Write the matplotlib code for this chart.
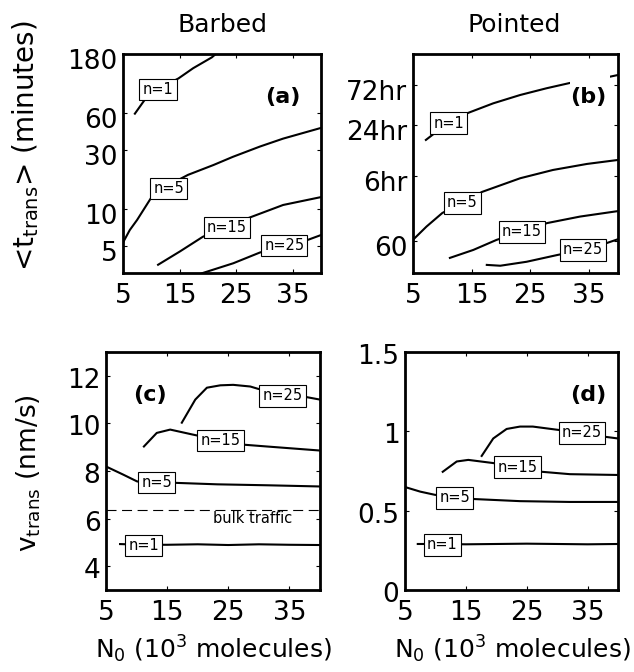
import matplotlib
matplotlib.use('Agg')
import matplotlib.pyplot as plt
from matplotlib.ticker import FixedLocator, NullLocator, FixedFormatter
from matplotlib.transforms import ScaledTranslation
from matplotlib.patches import Rectangle

plt.rcParams['font.family'] = ['DejaVu Sans']
plt.rcParams['mathtext.default'] = 'regular'

# ---------------- data ----------------
# x axis: N0 (10^3 molecules)
xticks = [5, 15, 25, 35]
xtick_labels = ['5', '15', '25', '35']

# (a) Barbed: <t_trans> in minutes
a_n1_x = [7.1, 8.8, 11.5, 14.8, 17.4, 20.7, 22]
a_n1_y = [59, 76, 95, 114, 138, 169, 190]
a_n5_x = [5, 6.2, 7.5, 10.1, 13, 16.5, 21, 24.4, 29.2, 33.3, 40]
a_n5_y = [5.3, 6.7, 8.1, 12.5, 15.5, 18.8, 22.6, 26.3, 31.9, 37.0, 45.2]
a_n15_x = [11.2, 15.1, 19.1, 23.4, 27.8, 33.3, 40]
a_n15_y = [3.5, 4.5, 5.9, 7.2, 8.6, 10.7, 12.4]
a_n25_x = [18, 19.1, 24.5, 29.2, 33.5, 37.8, 40]
a_n25_y = [2.85, 3.0, 3.6, 4.4, 5.0, 5.6, 6.1]
a_yticks = [5, 10, 30, 60, 180]
a_ytick_labels = ['5', '10', '30', '60', '180']
a_lab_x = [11.2, 13.1, 23.4, 33.5]
a_lab_y = [93, 14.5, 7.0, 5.0]

# (b) Pointed: <t_trans> in minutes
b_n1_x = [7.2, 8.8, 14.4, 18.7, 23.3, 27.8, 31.8, 38.6, 40]
b_n1_y = [953, 1161, 1995, 2594, 3258, 3917, 4530, 5370, 5630]
b_n5_x = [5, 7.3, 10, 16.8, 23.3, 28.9, 34.7, 40]
b_n5_y = [62, 89, 129, 230, 334, 419, 494, 551]
b_n15_x = [11.3, 15.3, 19.3, 23.6, 27.9, 33.5, 40]
b_n15_y = [37.8, 47, 62, 77, 98, 117, 136]
b_n25_x = [17.6, 19.9, 24.4, 29.7, 34, 38, 40]
b_n25_y = [31.2, 30.5, 34, 41, 47, 56.5, 63]
b_yticks = [60, 360, 1440, 4320]
b_ytick_labels = ['60', '6hr', '24hr', '72hr']
b_lab_x = [11.1, 13.4, 23.6, 34.0]
b_lab_y = [1514, 170, 77, 47]

# (c) Barbed: v_trans (nm/s)
c_n1_x = [7.3, 11, 15, 20, 25, 30, 35, 40]
c_n1_y = [4.93, 4.90, 4.90, 4.92, 4.89, 4.92, 4.90, 4.89]
c_n5_x = [5, 7.8, 10.1, 13, 16.6, 23.2, 31.4, 40]
c_n5_y = [8.19, 7.85, 7.56, 7.53, 7.50, 7.44, 7.40, 7.35]
c_n15_x = [11.2, 13.3, 15.5, 19.2, 23.5, 27.8, 31.3, 40]
c_n15_y = [9.03, 9.60, 9.74, 9.53, 9.30, 9.10, 9.03, 8.86]
c_n25_x = [17.4, 19.6, 21.5, 23.7, 25.8, 28.6, 29.9, 33.9, 37.9, 40]
c_n25_y = [10.03, 11.0, 11.5, 11.6, 11.62, 11.55, 11.45, 11.3, 11.1, 11.0]
c_bulk = 6.35
c_yticks = [4, 6, 8, 10, 12]
c_lab_x = [11.2, 13.3, 23.7, 33.9]
c_lab_y = [4.88, 7.52, 9.28, 11.16]

# (d) Pointed: v_trans (nm/s)
d_n1_x = [7.1, 11, 15, 20, 25, 30, 35, 40]
d_n1_y = [0.29, 0.29, 0.288, 0.29, 0.292, 0.29, 0.288, 0.29]
d_n5_x = [5, 7.5, 9.9, 13, 16.5, 23.9, 32, 40]
d_n5_y = [0.649, 0.62, 0.60, 0.585, 0.573, 0.56, 0.555, 0.555]
d_n15_x = [11.2, 13.5, 15.4, 19.5, 23.5, 27.5, 32.1, 40]
d_n15_y = [0.745, 0.81, 0.82, 0.80, 0.775, 0.745, 0.73, 0.725]
d_n25_x = [17.6, 19.5, 21.7, 23.9, 26.0, 30.0, 34.1, 38.0, 40]
d_n25_y = [0.845, 0.955, 1.015, 1.03, 1.03, 1.01, 0.99, 0.965, 0.955]
d_yticks = [0, 0.5, 1, 1.5]
d_ytick_labels = ['0', '0.5', '1', '1.5']
d_lab_x = [11.1, 13.2, 23.5, 34.1]
d_lab_y = [0.284, 0.58, 0.775, 0.99]

n_labels = ['n=1', 'n=5', 'n=15', 'n=25']

# ---------------- figure ----------------
W, H = 634, 672
fig = plt.figure(figsize=(W / 100, H / 100), dpi=100)


def axbox(x0, x1, y0, y1):
    return [x0 / W, 1 - y1 / H, (x1 - x0) / W, (y1 - y0) / H]


axa = fig.add_axes(axbox(123, 321, 54, 273))
axb = fig.add_axes(axbox(413, 618, 54, 273))
axc = fig.add_axes(axbox(106, 320, 352, 590))
axd = fig.add_axes(axbox(405, 618, 352, 590))

LW = 1.5
TICK_FS = 19
LABEL_FS = 18


def style(ax):
    ax.set_xlim(5, 40)
    ax.xaxis.set_major_locator(FixedLocator(xticks))
    ax.xaxis.set_major_formatter(FixedFormatter(xtick_labels))
    ax.xaxis.set_minor_locator(NullLocator())
    ax.yaxis.set_minor_locator(NullLocator())
    ax.tick_params(direction='in', length=3, width=0.8, top=True, right=True,
                   labelsize=TICK_FS)
    ax.tick_params(axis='x', pad=7)
    ax.tick_params(axis='y', pad=4)
    for s in ax.spines.values():
        s.set_linewidth(2)


def shift_ylabels(ax, dy_px):
    off = ScaledTranslation(0, -dy_px / 100, fig.dpi_scale_trans)
    for lab in ax.get_yticklabels():
        lab.set_transform(lab.get_transform() + off)


def labels(ax, xs, ys):
    for x, y, t in zip(xs, ys, n_labels):
        ax.text(x, y, t, ha='center', va='center', fontsize=10.5, zorder=5,
                bbox=dict(boxstyle='square,pad=0.22', fc='white', ec='black', lw=0.8))


# (a)
for xs, ys in [(a_n1_x, a_n1_y), (a_n5_x, a_n5_y), (a_n15_x, a_n15_y), (a_n25_x, a_n25_y)]:
    axa.plot(xs, ys, color='black', lw=LW)
axa.set_yscale('log')
axa.set_ylim(3, 180)
style(axa)
axa.yaxis.set_major_locator(FixedLocator(a_yticks))
axa.yaxis.set_major_formatter(FixedFormatter(a_ytick_labels))
shift_ylabels(axa, 5)
labels(axa, a_lab_x, a_lab_y)
axa.text(0.808, 0.804, '(a)', transform=axa.transAxes, ha='center', va='center',
         fontsize=16, fontweight='bold', zorder=6)

# (b)
for xs, ys in [(b_n1_x, b_n1_y), (b_n5_x, b_n5_y), (b_n15_x, b_n15_y), (b_n25_x, b_n25_y)]:
    axb.plot(xs, ys, color='black', lw=LW)
axb.set_yscale('log')
axb.set_ylim(25, 10000)
style(axb)
axb.yaxis.set_major_locator(FixedLocator(b_yticks))
axb.yaxis.set_major_formatter(FixedFormatter(b_ytick_labels))
shift_ylabels(axb, 5)
labels(axb, b_lab_x, b_lab_y)
# white background behind the "(b)" panel tag
axb.add_patch(Rectangle((0.766, 0.735), 0.195, 0.185, transform=axb.transAxes,
                        fc='white', ec='none', zorder=4))
axb.text(0.854, 0.804, '(b)', transform=axb.transAxes, ha='center', va='center',
         fontsize=16, fontweight='bold', zorder=6)

# (c)
for xs, ys in [(c_n1_x, c_n1_y), (c_n5_x, c_n5_y), (c_n15_x, c_n15_y), (c_n25_x, c_n25_y)]:
    axc.plot(xs, ys, color='black', lw=LW)
axc.axhline(c_bulk, color='black', lw=0.8, dashes=(9, 5))
axc.set_ylim(3, 13)
style(axc)
axc.yaxis.set_major_locator(FixedLocator(c_yticks))
shift_ylabels(axc, 2)
labels(axc, c_lab_x, c_lab_y)
axc.text(28.9, c_bulk - 0.05, 'bulk traffic', ha='center', va='top', fontsize=10.5)
axc.text(0.206, 0.819, '(c)', transform=axc.transAxes, ha='center', va='center',
         fontsize=16, fontweight='bold', zorder=6)

# (d)
for xs, ys in [(d_n1_x, d_n1_y), (d_n5_x, d_n5_y), (d_n15_x, d_n15_y), (d_n25_x, d_n25_y)]:
    axd.plot(xs, ys, color='black', lw=LW)
axd.set_ylim(0, 1.5)
style(axd)
axd.yaxis.set_major_locator(FixedLocator(d_yticks))
axd.yaxis.set_major_formatter(FixedFormatter(d_ytick_labels))
shift_ylabels(axd, 2)
labels(axd, d_lab_x, d_lab_y)
axd.text(0.859, 0.819, '(d)', transform=axd.transAxes, ha='center', va='center',
         fontsize=16, fontweight='bold', zorder=6)

# titles and axis labels
fig.text(222 / W, 1 - 32 / H, 'Barbed', ha='center', va='baseline', fontsize=LABEL_FS)
fig.text(514 / W, 1 - 32 / H, 'Pointed', ha='center', va='baseline', fontsize=LABEL_FS)
fig.text(26 / W, 1 - 146 / H, '<t$_{trans}$> (minutes)', rotation=90,
         ha='center', va='center', fontsize=LABEL_FS + 2)
fig.text(29 / W, 1 - 473 / H, 'v$_{trans}$ (nm/s)', rotation=90,
         ha='center', va='center', fontsize=LABEL_FS + 1)
fig.text(213 / W, 1 - 658 / H, 'N$_0$ (10$^3$ molecules)', ha='center', va='baseline',
         fontsize=LABEL_FS)
fig.text(512 / W, 1 - 658 / H, 'N$_0$ (10$^3$ molecules)', ha='center', va='baseline',
         fontsize=LABEL_FS)

fig.savefig('out.png', dpi=100)
